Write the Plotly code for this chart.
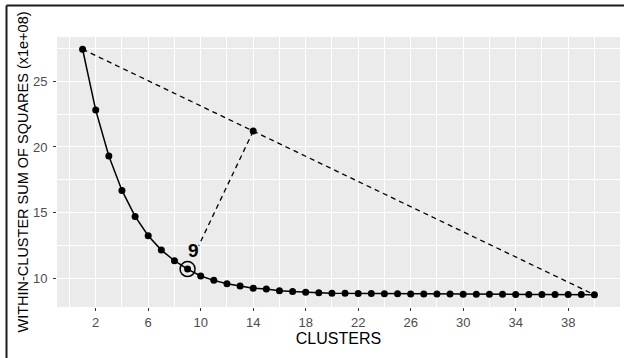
import plotly.graph_objects as go

# ---- data ----
clusters = list(range(1, 41))
wss = [27.42, 22.80, 19.32, 16.70, 14.73, 13.26, 12.17, 11.36, 10.73, 10.20,
       9.87, 9.62, 9.45, 9.27, 9.22, 9.09, 9.02, 8.96, 8.93, 8.90,
       8.89, 8.88, 8.87, 8.86, 8.85, 8.84, 8.84, 8.83, 8.83, 8.82,
       8.82, 8.81, 8.81, 8.80, 8.80, 8.80, 8.79, 8.79, 8.79, 8.78]
x_ticks = [2, 6, 10, 14, 18, 22, 26, 30, 34, 38]
x_minor = [0, 4, 8, 12, 16, 20, 24, 28, 32, 36, 40]
y_ticks = [10, 15, 20, 25]
y_minor = [7.5, 12.5, 17.5, 22.5, 27.5]
elbow_k = 9
line_point_x = 14
elbow_label = "9"
x_title = "CLUSTERS"
y_title = "WITHIN-CLUSTER SUM OF SQUARES (x1e+08)"

# ---- derived ----
x0, y0 = clusters[0], wss[0]
x1, y1 = clusters[-1], wss[-1]
lp_y = y0 + (y1 - y0) * (line_point_x - x0) / (x1 - x0)
ey = wss[clusters.index(elbow_k)]
frac = 0.83
seg_end_x = line_point_x + (elbow_k - line_point_x) * frac
seg_end_y = lp_y + (ey - lp_y) * frac

xr = [x0 - 0.05 * (x1 - x0), x1 + 0.05 * (x1 - x0)]
ymin, ymax = min(wss), max(wss)
yr = [ymin - 0.05 * (ymax - ymin), ymax + 0.05 * (ymax - ymin)]

fig = go.Figure()
fig.add_trace(go.Scatter(x=[x0, x1], y=[y0, y1], mode="lines",
                         line=dict(color="black", width=1.3, dash="5px,4px"),
                         hoverinfo="skip"))
fig.add_trace(go.Scatter(x=[line_point_x, seg_end_x], y=[lp_y, seg_end_y], mode="lines",
                         line=dict(color="black", width=1.3, dash="5px,4px"),
                         hoverinfo="skip"))
fig.add_trace(go.Scatter(x=[line_point_x], y=[lp_y], mode="markers",
                         marker=dict(color="black", size=7)))
fig.add_trace(go.Scatter(x=clusters, y=wss, mode="lines+markers",
                         line=dict(color="black", width=1.5),
                         marker=dict(color="black", size=7)))
fig.add_trace(go.Scatter(x=[elbow_k], y=[ey], mode="markers",
                         marker=dict(symbol="circle-open", size=15, color="black",
                                     line=dict(color="black", width=1.5))))

fig.add_annotation(x=elbow_k + 0.45, y=ey + 1.4, text="<b>" + elbow_label + "</b>",
                   showarrow=False, font=dict(size=19, color="black",
                                              family="Liberation Sans"))

# image border (left and top)
fig.add_shape(type="line", xref="paper", yref="paper",
              x0=-0.0897, x1=-0.0897, y0=1.1167, y1=-0.2,
              line=dict(color="#1a1a1a", width=2))
fig.add_shape(type="line", xref="paper", yref="paper",
              x0=-0.0897, x1=1.02, y0=1.1167, y1=1.1167,
              line=dict(color="#1a1a1a", width=2))

axis_common = dict(
    showline=False, zeroline=False, automargin=False,
    ticks="outside", ticklen=3, tickwidth=1, tickcolor="#333333",
    gridcolor="white", gridwidth=1.1,
    tickfont=dict(size=13, color="#4D4D4D", family="Liberation Sans"),
)

fig.update_layout(
    width=624, height=358,
    margin=dict(l=57, r=4, t=37, b=51),
    paper_bgcolor="white", plot_bgcolor="#EBEBEB",
    showlegend=False,
    font=dict(family="Liberation Sans", color="black"),
    xaxis=dict(range=xr, tickvals=x_ticks, **axis_common,
               minor=dict(tickvals=x_minor, showgrid=True, gridcolor="white",
                          gridwidth=0.5, ticks=""),
               title=dict(text=x_title, font=dict(size=16, color="black"), standoff=4)),
    yaxis=dict(range=yr, tickvals=y_ticks, **axis_common, ticklabelstandoff=3,
               minor=dict(tickvals=y_minor, showgrid=True, gridcolor="white",
                          gridwidth=0.5, ticks=""),
               title=dict(text=y_title, font=dict(size=14.5, color="black"), standoff=0)),
)

fig.write_html("out.html", config={"displayModeBar": False},
               post_script="document.body.style.margin='0px';document.body.style.overflow='hidden';")
